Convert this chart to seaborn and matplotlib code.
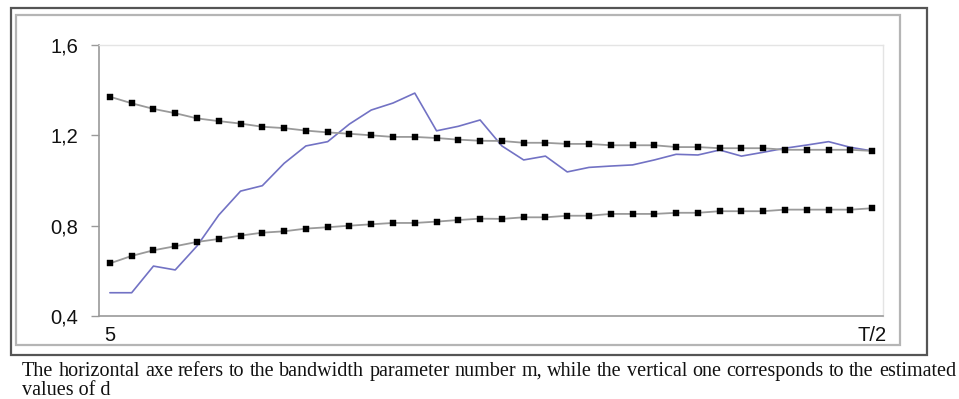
import matplotlib
matplotlib.use("Agg")
import matplotlib.pyplot as plt
import seaborn as sns
import numpy as np
import pandas as pd
from matplotlib.patches import Rectangle

# ---- data ----
m_index = list(range(36))
upper_band = [1.371, 1.342, 1.317, 1.298, 1.275, 1.263, 1.252, 1.238, 1.232,
              1.221, 1.213, 1.207, 1.200, 1.193, 1.193, 1.188, 1.181, 1.176,
              1.175, 1.167, 1.167, 1.162, 1.162, 1.156, 1.156, 1.156, 1.148,
              1.148, 1.143, 1.143, 1.143, 1.136, 1.136, 1.136, 1.136, 1.131]
lower_band = [0.633, 0.666, 0.691, 0.709, 0.728, 0.741, 0.756, 0.769, 0.775,
              0.787, 0.793, 0.800, 0.806, 0.812, 0.812, 0.818, 0.825, 0.831,
              0.830, 0.837, 0.837, 0.844, 0.844, 0.852, 0.852, 0.852, 0.857,
              0.857, 0.864, 0.864, 0.864, 0.871, 0.871, 0.871, 0.871, 0.877]
d_estimate = [0.503, 0.503, 0.621, 0.604, 0.710, 0.847, 0.953, 0.977, 1.076,
              1.153, 1.172, 1.250, 1.312, 1.343, 1.387, 1.220, 1.240, 1.268,
              1.153, 1.091, 1.108, 1.038, 1.058, 1.064, 1.069, 1.091, 1.116,
              1.113, 1.135, 1.108, 1.125, 1.143, 1.157, 1.172, 1.147, 1.131]
y_ticks = [0.4, 0.8, 1.2, 1.6]
y_tick_labels = ["0,4", "0,8", "1,2", "1,6"]
x_tick_pos = [0, 35]
x_tick_labels = ["5", "T/2"]
caption_line1 = ("The horizontal axe refers to the bandwidth parameter number m, "
                 "while the vertical one corresponds to the estimated")
caption_line2 = "values of d"

df = pd.DataFrame({"m": m_index, "upper": upper_band,
                   "lower": lower_band, "d": d_estimate})

sns.set_theme(style="white")
plt.rcParams["font.family"] = ["Liberation Sans", "DejaVu Sans"]

W, H = 959, 399
fig = plt.figure(figsize=(W / 100, H / 100), dpi=100)
fig.patch.set_facecolor("white")

# frames
fig.patches.append(Rectangle((11 / W, 1 - 355 / H), 916 / W, 347 / H,
                             transform=fig.transFigure, fill=False,
                             edgecolor="#555555", linewidth=1.6, zorder=0))
fig.patches.append(Rectangle((16 / W, 1 - 345 / H), 884 / W, 330 / H,
                             transform=fig.transFigure, fill=False,
                             edgecolor="#b5b5b5", linewidth=1.6, zorder=0))

ax = fig.add_axes([99 / W, 1 - 316 / H, 784 / W, 271 / H])
ax.set_facecolor("white")

sns.lineplot(data=df, x="m", y="d", ax=ax, color="#7272c4", linewidth=1.2,
             zorder=2)
for col in ["upper", "lower"]:
    sns.lineplot(data=df, x="m", y=col, ax=ax, color="#9a9a9a", linewidth=1.3,
                 marker="s", markersize=5, markerfacecolor="black",
                 markeredgecolor="black", markeredgewidth=0.3, zorder=3)

ax.set_xlim(-0.5, 35.5)
ax.set_ylim(0.4, 1.6)
ax.set_yticks(y_ticks)
ax.set_yticklabels(y_tick_labels, fontsize=14.5, color="#111111")
ax.set_xticks(x_tick_pos)
ax.set_xticklabels(x_tick_labels, fontsize=14.5, color="#111111")
ax.tick_params(axis="y", which="both", left=True, length=6, width=1,
               color="#9a9a9a", pad=9)
ax.tick_params(axis="x", which="both", bottom=False, length=0, pad=7)
ax.set_xlabel("")
ax.set_ylabel("")
ax.grid(False)
for side in ["left", "bottom"]:
    ax.spines[side].set_color("#9a9a9a")
    ax.spines[side].set_linewidth(1.2)
for side in ["top", "right"]:
    ax.spines[side].set_color("#e4e4e4")
    ax.spines[side].set_linewidth(1.0)

# caption (justified first line)
cap_font = dict(family=["Liberation Serif", "DejaVu Serif"], fontsize=14.5,
                color="#111111")
fig.canvas.draw()
renderer = fig.canvas.get_renderer()
words = caption_line1.split(" ")
left_px, right_px = 22, 956
base1 = 1 - 376 / H
texts = [fig.text(0, base1, w, ha="left", va="baseline", **cap_font)
         for w in words]
widths = [t.get_window_extent(renderer).width for t in texts]
gap = (right_px - left_px - sum(widths)) / (len(words) - 1)
x = left_px
for t, w in zip(texts, widths):
    t.set_x(x / W)
    x += w + gap
fig.text(left_px / W, 1 - 395 / H, caption_line2, ha="left", va="baseline",
         **cap_font)

fig.savefig("out.png", dpi=100, facecolor="white")
